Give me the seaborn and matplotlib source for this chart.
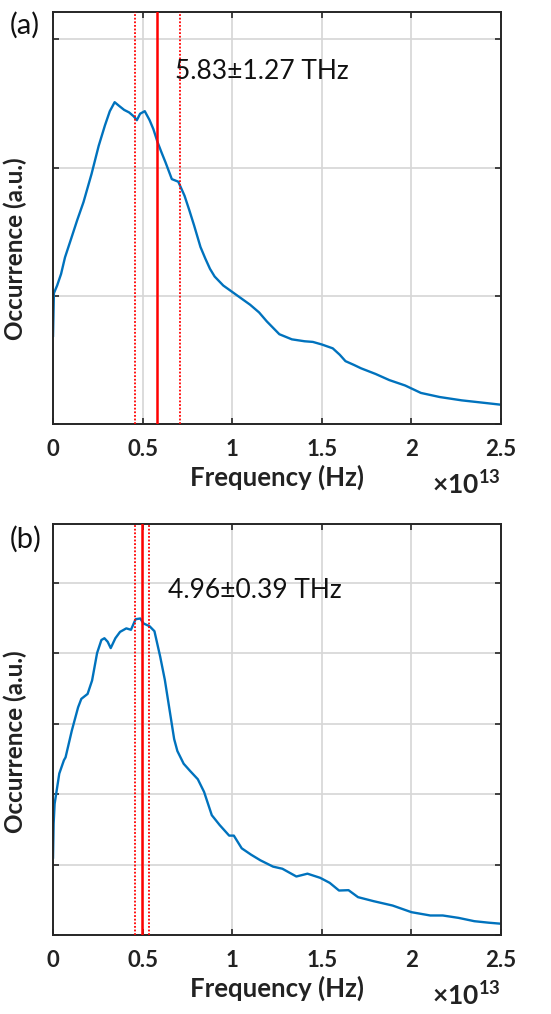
import numpy as np
import pandas as pd
import matplotlib
matplotlib.use("Agg")
import matplotlib.pyplot as plt
import seaborn as sns

sns.set_theme(style="white")
plt.rcParams["font.family"] = ["Lato", "DejaVu Sans"]

# ---- data (frequency in units of 1e13 Hz, occurrence in arbitrary units) ----
freq_a = [0.0, 0.005, 0.023, 0.045, 0.067, 0.10, 0.135, 0.17, 0.215, 0.255, 0.29, 0.317,
          0.344, 0.37, 0.397, 0.425, 0.450, 0.468, 0.486, 0.512, 0.539, 0.56, 0.583, 0.605,
          0.628, 0.663, 0.699, 0.734, 0.76, 0.787, 0.823, 0.85, 0.876, 0.902, 0.95, 1.0,
          1.05, 1.1, 1.15, 1.193, 1.263, 1.333, 1.404, 1.45, 1.5, 1.561, 1.6, 1.632, 1.68,
          1.719, 1.8, 1.877, 1.965, 2.053, 2.158, 2.281, 2.404, 2.5]
occ_a = [0.68, 1.02, 1.08, 1.17, 1.30, 1.44, 1.59, 1.73, 1.95, 2.17, 2.33, 2.44,
         2.51, 2.48, 2.45, 2.43, 2.40, 2.37, 2.42, 2.44, 2.37, 2.30, 2.20, 2.12,
         2.04, 1.91, 1.89, 1.78, 1.67, 1.55, 1.38, 1.29, 1.21, 1.15, 1.08, 1.03,
         0.98, 0.93, 0.87, 0.80, 0.70, 0.66, 0.645, 0.64, 0.62, 0.59, 0.54, 0.49, 0.46,
         0.434, 0.39, 0.342, 0.30, 0.242, 0.21, 0.184, 0.165, 0.15]

freq_b = [0.0, 0.0035, 0.009, 0.035, 0.061, 0.07, 0.105, 0.14, 0.158, 0.193, 0.218, 0.246,
          0.270, 0.287, 0.305, 0.322, 0.348, 0.374, 0.409, 0.435, 0.461, 0.487, 0.505,
          0.539, 0.566, 0.598, 0.624, 0.650, 0.676, 0.694, 0.729, 0.764, 0.808, 0.843,
          0.886, 0.93, 0.983, 1.009, 1.053, 1.105, 1.157, 1.228, 1.28, 1.358, 1.42,
          1.491, 1.544, 1.596, 1.649, 1.702, 1.789, 1.895, 2.0, 2.105, 2.175, 2.263,
          2.351, 2.43, 2.5]
occ_b = [1.085, 1.58, 1.86, 2.29, 2.48, 2.52, 2.90, 3.23, 3.35, 3.42, 3.61, 4.0,
         4.185, 4.21, 4.16, 4.07, 4.21, 4.30, 4.35, 4.33, 4.48, 4.49, 4.42,
         4.38, 4.31, 3.95, 3.62, 3.20, 2.78, 2.61, 2.43, 2.33, 2.21, 2.03,
         1.70, 1.56, 1.41, 1.41, 1.23, 1.14, 1.06, 0.97, 0.94, 0.83, 0.87,
         0.811, 0.74, 0.631, 0.636, 0.537, 0.48, 0.418, 0.324, 0.277, 0.277, 0.243,
         0.196, 0.175, 0.16]

center_thz = [5.83, 4.96]
err_thz = [1.27, 0.39]
panel_labels = ["(a)", "(b)"]
xtick_vals = [0, 0.5, 1, 1.5, 2, 2.5]
xtick_labels = ["0", "0.5", "1", "1.5", "2", "2.5"]
yticks_a = [0, 1, 2, 3]
yticks_b = [0, 1, 2, 3, 4, 5]
ylims = [3.21, 5.83]

SCALE = 1e13
blue = "#0072BD"
axcol = "#262626"

fig = plt.figure(figsize=(5.51, 10.14), dpi=100)
rects = [[0.0962, 0.5819, 0.8131, 0.4058], [0.0962, 0.0779, 0.8131, 0.4053]]
datasets = [(freq_a, occ_a, yticks_a), (freq_b, occ_b, yticks_b)]
text_pos = [(0.68, 2.75), (0.64, 4.89)]
label_y = [0.97, 0.963]
ylabel_y = [0.425, 0.47]

for i, (rect, (fr, oc, yt)) in enumerate(zip(rects, datasets)):
    ax = fig.add_axes(rect)
    df = pd.DataFrame({"f": np.array(fr) * SCALE, "o": oc})
    sns.lineplot(data=df, x="f", y="o", ax=ax, color=blue, lw=1.7,
                 estimator=None, sort=False)
    c = center_thz[i] * 1e12
    e = err_thz[i] * 1e12
    ax.axvline(c, color="#FF0000", lw=1.8, zorder=3)
    ax.axvline(c - e, color="#FF0000", lw=1.3, ls=(0, (1, 1)), zorder=3)
    ax.axvline(c + e, color="#FF0000", lw=1.3, ls=(0, (1, 1)), zorder=3)

    ax.set_xlim(0, 2.5 * SCALE)
    ax.set_ylim(0, ylims[i])
    ax.set_xticks([v * SCALE for v in xtick_vals])
    ax.set_xticklabels(xtick_labels)
    ax.set_yticks(yt)
    ax.set_yticklabels([])
    ax.grid(True, color="#d6d6d6", lw=1.2)
    ax.set_axisbelow(True)
    for s in ax.spines.values():
        s.set_color(axcol)
        s.set_linewidth(1.4)
        s.set_visible(True)
    ax.tick_params(direction="in", length=4.5, width=1.2, color=axcol,
                   top=True, right=True, bottom=True, left=True,
                   labelsize=16, labelcolor="#222222", pad=11)
    for lab in ax.get_xticklabels():
        lab.set_fontweight("bold")
    ax.set_xlabel("Frequency (Hz)", fontsize=18.5, fontweight="bold",
                  color="#222222", labelpad=3)
    ax.set_ylabel("Occurrence (a.u.)", fontsize=17.5, fontweight="bold",
                  color="#222222")
    ax.yaxis.set_label_coords(-0.058, ylabel_y[i])
    ax.text(1.0, -0.145, "×10$^{\\mathdefault{13}}$", transform=ax.transAxes,
            ha="right", va="center", fontsize=19, fontweight="bold", color="#222222")
    tx, ty = text_pos[i]
    ax.text(tx * SCALE, ty, f"{center_thz[i]:.2f}±{err_thz[i]:.2f} THz",
            fontsize=19, va="center", ha="left", color="#111111")
    ax.text(-0.096, label_y[i], panel_labels[i], transform=ax.transAxes, fontsize=21,
            ha="left", va="center", color="#111111")

fig.savefig("out.png", dpi=100, facecolor="white")
